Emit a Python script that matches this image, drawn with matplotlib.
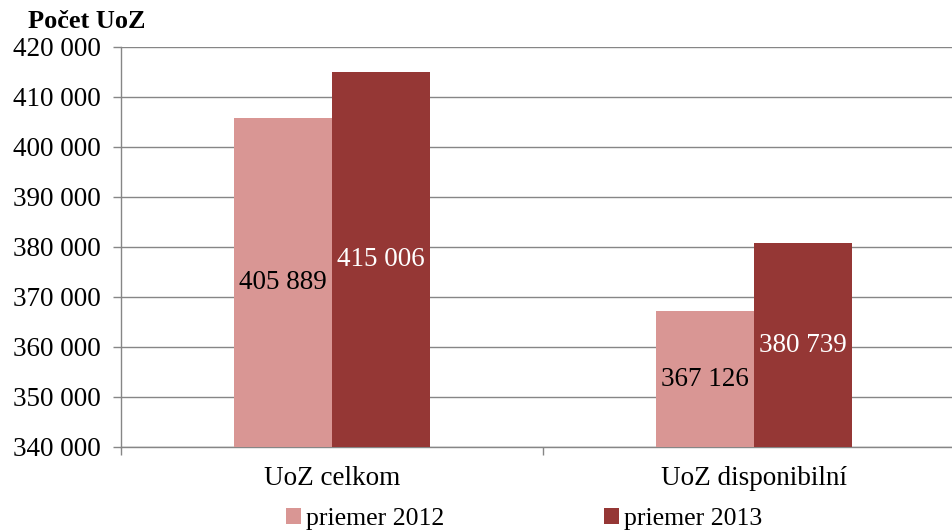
import matplotlib.pyplot as plt
import matplotlib.ticker as mticker
import numpy as np

categories = ["UoZ celkom", "UoZ disponibilní"]
series_names = ["priemer 2012", "priemer 2013"]
values_2012 = [405889, 367126]
values_2013 = [415006, 380739]
y_ticks = list(range(340000, 420001, 10000))

COLORS = ["#D99694", "#953735"]
LABEL_COLORS = ["black", "white"]
GRID = "#868686"

plt.rcParams["font.family"] = ["Liberation Serif", "DejaVu Serif"]

fig = plt.figure(figsize=(9.52, 5.31), dpi=100)
ax = fig.add_axes([121 / 952, 84 / 531, (952 - 121) / 952, 400 / 531])

x = np.arange(len(categories))
width = 0.232
ymin = y_ticks[0]

for i, (vals, name) in enumerate(zip([values_2012, values_2013], series_names)):
    pos = x + (i - 0.5) * width
    heights = [v - ymin for v in vals]
    ax.bar(pos, heights, width, bottom=ymin, color=COLORS[i], label=name, zorder=3)
    for p, v in zip(pos, vals):
        label = f"{v:,}".replace(",", " ")
        ax.text(p, (ymin + v) / 2, label, ha="center", va="center",
                fontsize=19.5, color=LABEL_COLORS[i], zorder=4)

ax.set_ylim(ymin, y_ticks[-1])
ax.set_yticks(y_ticks)
ax.yaxis.set_major_formatter(mticker.FuncFormatter(lambda v, _: f"{int(v):,}".replace(",", " ")))

# category boundaries as ticks, names as minor labels
ax.set_xticks([-0.5, 0.5, 1.5])
ax.set_xticklabels([])
ax.set_xticks(x, minor=True)
ax.set_xticklabels(categories, minor=True)
ax.set_xlim(-0.5, 1.5 - 13 / 422)
ax.tick_params(axis="x", which="major", direction="out", length=5.8, color=GRID, width=1)
ax.tick_params(axis="x", which="minor", length=0, pad=14, labelsize=19.5)
ax.tick_params(axis="y", direction="out", length=5.8, color=GRID, width=1, labelsize=19.5, pad=9)

ax.grid(axis="y", color=GRID, linewidth=1, zorder=0)
for side in ["top", "right"]:
    ax.spines[side].set_visible(False)
for side in ["left", "bottom"]:
    ax.spines[side].set_color(GRID)
    ax.spines[side].set_linewidth(1)

fig.text(28 / 952, 1 - 22 / 531, "Počet UoZ", fontsize=19, fontweight="bold", va="center", ha="left")

fig.legend(loc="center", bbox_to_anchor=(524 / 952, 1 - 519 / 531), ncol=2, frameon=False,
           fontsize=18.5, handlelength=0.6, handleheight=0.55, handletextpad=0.2,
           columnspacing=6.2)

fig.savefig("out.png", dpi=100)
